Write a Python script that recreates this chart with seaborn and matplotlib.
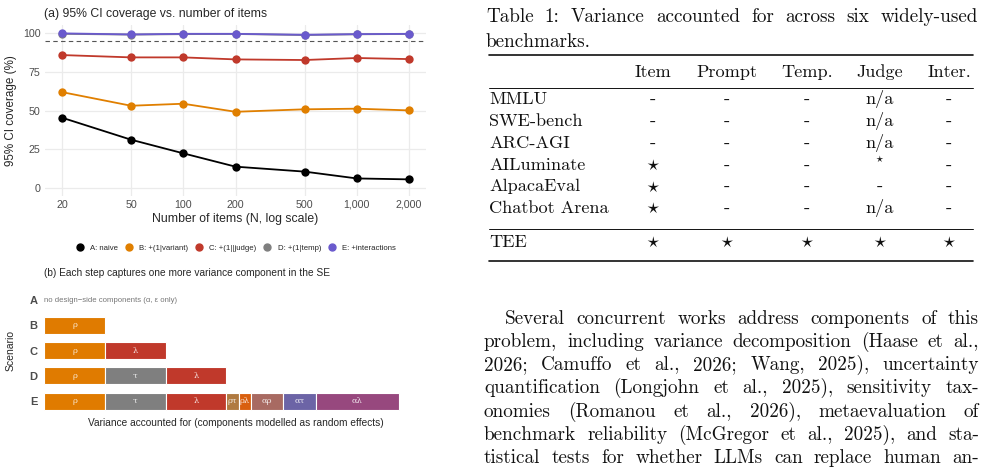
import numpy as np
import pandas as pd
import matplotlib
matplotlib.use("Agg")
import matplotlib.pyplot as plt
from matplotlib.lines import Line2D
import seaborn as sns

# ── DATA ──────────────────────────────────────────────────────────────────────
n_items = [20, 50, 100, 200, 500, 1000, 2000]
n_labels = ["20", "50", "100", "200", "500", "1,000", "2,000"]
models = ["A: naive", "B: +(1|variant)", "C: +(1||judge)", "D: +(1|temp)", "E: +interactions"]
cov_a = [45.4, 31.2, 22.4, 13.8, 10.6, 6.2, 5.6]
cov_b = [61.9, 53.1, 54.4, 49.2, 50.8, 51.2, 50.1]
cov_c = [85.8, 84.3, 84.3, 83.0, 82.6, 83.9, 83.2]
cov_d = [99.5, 99.0, 99.3, 99.4, 98.7, 99.2, 99.4]
cov_e = [99.8, 99.1, 99.5, 99.5, 98.9, 99.3, 99.5]
nominal = 95

scenarios = ["A", "B", "C", "D", "E"]
components = {
    "A": [],
    "B": ["ρ"],
    "C": ["ρ", "λ"],
    "D": ["ρ", "τ", "λ"],
    "E": ["ρ", "τ", "λ", "ρτ", "ρλ", "αρ", "ατ", "αλ"],
}
comp_width = {"ρ": 1, "τ": 1, "λ": 1, "ρτ": 0.2, "ρλ": 0.2,
              "αρ": 0.54, "ατ": 0.54, "αλ": 1.36}

table_cols = ["Item", "Prompt", "Temp.", "Judge", "Inter."]
table_rows = ["MMLU", "SWE-bench", "ARC-AGI", "AILuminate", "AlpacaEval", "Chatbot Arena"]
table_vals = [
    ["-", "-", "-", "n/a", "-"],
    ["-", "-", "-", "n/a", "-"],
    ["-", "-", "-", "n/a", "-"],
    ["*", "-", "-", "small*", "-"],
    ["*", "-", "-", "-", "-"],
    ["*", "-", "-", "n/a", "-"],
]
tee_vals = ["*", "*", "*", "*", "*"]

caption = ["Table 1: Variance accounted for across six widely-used", "benchmarks."]
paragraph = [
    "Several concurrent works address components of this",
    "problem, including variance decomposition (Haase et al.,",
    "2026; Camuffo et al., 2026; Wang, 2025), uncertainty",
    "quantification (Longjohn et al., 2025), sensitivity tax-",
    "onomies (Romanou et al., 2026), metaevaluation of",
    "benchmark reliability (McGregor et al., 2025), and sta-",
    "tistical tests for whether LLMs can replace human an-",
]

# ── STYLE ─────────────────────────────────────────────────────────────────────
sns.set_theme(style="whitegrid")
plt.rcParams["font.family"] = ["Liberation Sans", "DejaVu Sans"]
plt.rcParams["mathtext.fontset"] = "cm"

line_colors = ["#000000", "#E07F00", "#C0392B", "#7F7F7F", "#6A5ACD"]
comp_colors = {"ρ": "#E07B00", "τ": "#7F7F7F", "λ": "#C0392B", "ρτ": "#B07A40",
               "ρλ": "#D9600F", "αρ": "#A86A62", "ατ": "#6C64A6", "αλ": "#97487E"}

W, H = 985, 469
fig = plt.figure(figsize=(W / 100, H / 100), dpi=100)


def fx(px):
    return px / W


def fy(py):
    return 1 - py / H


def box(x0, y0, x1, y1):
    return [fx(x0), fy(y1), fx(x1) - fx(x0), fy(y0) - fy(y1)]


# ══════════════════════════════════════════════════════════════════════════════
# (a) coverage vs number of items
# ══════════════════════════════════════════════════════════════════════════════
df = pd.DataFrame({
    "n": n_items * 5,
    "coverage": cov_a + cov_b + cov_c + cov_d + cov_e,
    "model": sum([[m] * len(n_items) for m in models], []),
})

ax = fig.add_axes(box(44.6, 25.3, 426.4, 195.8))
ax.set_facecolor("white")
ax.axhline(nominal, color="#555555", ls=(0, (4, 3)), lw=0.8, zorder=1)
sns.lineplot(data=df, x="n", y="coverage", hue="model", hue_order=models,
             palette=line_colors, marker="o", markersize=6, markeredgewidth=0,
             linewidth=1.3, legend=False, ax=ax, zorder=3)
ax.set_xscale("log")
ax.set_xlim(10 ** 1.201, 10 ** 3.401)
ax.set_ylim(-5, 105)
ax.set_xticks(n_items)
ax.set_xticklabels(n_labels)
ax.minorticks_off()
ax.set_yticks([0, 25, 50, 75, 100])
ax.tick_params(axis="both", labelsize=7.7, colors="#4D4D4D", length=0, pad=3)
ax.grid(True, color="#EBEBEB", lw=0.9)
for s in ax.spines.values():
    s.set_visible(False)
ax.set_xlabel("Number of items (N, log scale)", fontsize=8.8, labelpad=2)
ax.set_ylabel("95% CI coverage (%)", fontsize=8.4, labelpad=4)
ax.set_title("(a) 95% CI coverage vs. number of items", fontsize=8.8, loc="left",
             x=-0.001, pad=6)

handles = [Line2D([], [], marker="o", ls="", color=c, markersize=5) for c in line_colors]
fig.legend(handles, models, loc="center", bbox_to_anchor=(fx(236), fy(248)), ncol=5,
           frameon=False, fontsize=5.6, handlelength=1.0, handletextpad=0.8,
           columnspacing=0.9, borderaxespad=0)

# ══════════════════════════════════════════════════════════════════════════════
# (b) variance components per scenario
# ══════════════════════════════════════════════════════════════════════════════
unit = 60.7
bx0, bx1 = 44.3, 426.4
axb = fig.add_axes(box(bx0, 287.4, bx1, 413.8))
axb.set_facecolor("white")
for i, sc in enumerate(scenarios):
    left = 0
    for comp in components[sc]:
        w = comp_width[comp]
        axb.barh(i, w, left=left, height=0.68, color=comp_colors[comp],
                 edgecolor="white", linewidth=0.8)
        axb.text(left + w / 2, i, comp, ha="center", va="center", fontsize=6,
                 color="white", alpha=0.85, family="DejaVu Serif")
        left += w
axb.text(0, 0, "no design\u2212side components (α, ε only)", ha="left", va="center",
         fontsize=5.6, color="#777777")
axb.set_xlim(0, (bx1 - bx0) / unit)
axb.set_ylim(4.5, -0.5)
axb.set_yticks(range(len(scenarios)))
axb.set_yticklabels(scenarios, fontweight="bold", fontsize=8)
axb.set_xticks([])
axb.tick_params(axis="y", length=0, pad=5, colors="#4D4D4D")
axb.grid(False)
for s in axb.spines.values():
    s.set_visible(False)
axb.set_xlabel("Variance accounted for (components modelled as random effects)",
               fontsize=7.3, labelpad=3)
axb.set_ylabel("Scenario", fontsize=7.5, labelpad=10)
axb.set_title("(b) Each step captures one more variance component in the SE",
              fontsize=7.3, loc="left", x=-0.001, pad=8)

# ══════════════════════════════════════════════════════════════════════════════
# right column: table + body text
# ══════════════════════════════════════════════════════════════════════════════
FS_TAB = 13.1
FS_TXT = 13.8
renderer = fig.canvas.get_renderer()


def serif(fs):
    return dict(family="cmr10", fontsize=fs, color="#111111")


def justify(line, x0, x1, y, fs):
    words = line.split(" ")
    objs = [fig.text(0, fy(y), w, va="baseline", **serif(fs)) for w in words]
    widths = [o.get_window_extent(renderer).width for o in objs]
    gap = (x1 - x0 - sum(widths)) / max(len(words) - 1, 1)
    x = x0
    for o, w in zip(objs, widths):
        o.set_x(fx(x))
        x += w + gap


def cell(val, x, y):
    if val == "*":
        fig.text(fx(x), fy(y), r"$\star$", ha="center", va="baseline",
                 fontsize=FS_TAB, color="#111111")
    elif val == "small*":
        fig.text(fx(x), fy(y - 11), r"$\star$", ha="center", va="center",
                 fontsize=FS_TAB * 0.6, color="#111111")
    else:
        fig.text(fx(x), fy(y), val, ha="center", va="baseline", **serif(FS_TAB))


justify(caption[0], 486, 978, 22.5, FS_TXT)
fig.text(fx(486), fy(47), caption[1], va="baseline", **serif(FS_TXT))

tx0, tx1 = 489, 973
col_x = [653, 727, 807, 880, 949]
for yy, lw in [(55, 1.2), (87.7, 0.7), (229.3, 0.7), (260.7, 1.2)]:
    fig.add_artist(Line2D([fx(tx0), fx(tx1)], [fy(yy), fy(yy)], color="#111111", lw=lw))

for c, x in zip(table_cols, col_x):
    fig.text(fx(x), fy(77), c, ha="center", va="baseline", **serif(FS_TAB))

row_y = [104, 126, 147.7, 169.5, 191.3, 213]
for name, vals, y in zip(table_rows, table_vals, row_y):
    fig.text(fx(tx0), fy(y), name, va="baseline", **serif(FS_TAB))
    for v, x in zip(vals, col_x):
        cell(v, x, y)

fig.text(fx(tx0), fy(246.5), "TEE", va="baseline", **serif(FS_TAB))
for v, x in zip(tee_vals, col_x):
    cell(v, x, 246.5)

par_y = [318.5, 341.8, 365.1, 388.4, 411.7, 435, 458.3]
for k, (line, y) in enumerate(zip(paragraph, par_y)):
    justify(line, 505 if k == 0 else 484, 979, y + 5, FS_TXT)

fig.savefig("out.png", dpi=100, facecolor="white")
